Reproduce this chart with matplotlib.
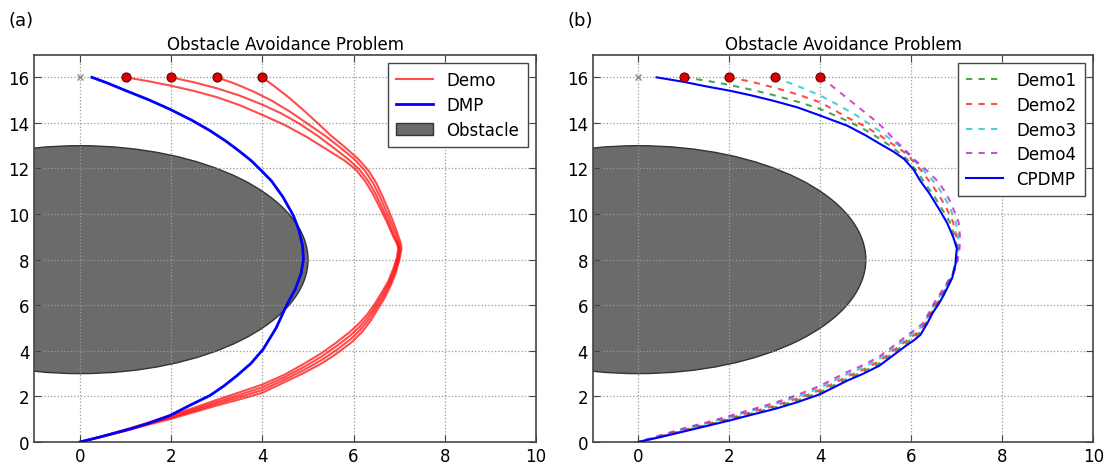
import matplotlib
matplotlib.use('Agg')
import matplotlib.pyplot as plt
from matplotlib.patches import Ellipse

# obstaculo circular e pontos iniciais / meta
obs_center = (0.0, 8.0)
obs_radius = 5.0
start_x = [1, 2, 3, 4]
start_y = [16, 16, 16, 16]
goal_marker = (0.0, 16.0)

# (a) demonstracoes
demo_a1_x = [1, 1.5, 2, 2.5, 3, 3.5, 4, 4.5, 5.0, 5.4, 5.8, 6.05, 6.25, 6.42, 6.57, 6.72, 6.85,
             6.95, 6.98,
             6.95, 6.87, 6.76, 6.6, 6.45, 6.3, 6.12, 5.9, 5.6, 5.3, 4.9, 4.5, 4.0, 3.5, 3.0,
             2.5, 2.0, 1.5, 1.0, 0.5, 0]
demo_a1_y = [16, 15.83, 15.63, 15.4, 15.13, 14.78, 14.35, 13.9, 13.35, 12.85, 12.35, 11.95, 11.45,
             10.9, 10.3, 9.7, 9.1, 8.7, 8.5,
             8.1, 7.6, 7.05, 6.5, 6.02, 5.6, 5.2, 4.8, 4.33, 3.9, 3.42, 2.97, 2.52, 2.18, 1.85,
             1.5, 1.18, 0.85, 0.55, 0.26, 0]
demo_a2_x = [2, 2.5, 3, 3.5, 4, 4.4, 4.8, 5.2, 5.6, 5.9, 6.13, 6.32, 6.48, 6.62, 6.76, 6.88, 6.97,
             7.0,
             6.97, 6.89, 6.78, 6.63, 6.48, 6.32, 6.14, 5.92, 5.6, 5.3, 4.9, 4.5, 4.0, 3.5, 3.0,
             2.5, 2.0, 1.5, 1.0, 0.5, 0]
demo_a2_y = [16, 15.78, 15.52, 15.2, 14.8, 14.43, 13.98, 13.45, 12.85, 12.38, 11.95, 11.45, 10.9,
             10.3, 9.7, 9.1, 8.7, 8.5,
             8.08, 7.55, 7.0, 6.45, 5.97, 5.5, 5.07, 4.66, 4.17, 3.75, 3.28, 2.86, 2.4, 2.07, 1.76,
             1.43, 1.12, 0.82, 0.53, 0.25, 0]
demo_a3_x = [3, 3.4, 3.8, 4.2, 4.6, 5.0, 5.4, 5.75, 6.03, 6.25, 6.43, 6.58, 6.7, 6.82, 6.93, 7.0,
             7.02,
             6.99, 6.91, 6.8, 6.66, 6.51, 6.35, 6.16, 5.94, 5.6, 5.3, 4.9, 4.5, 4.0, 3.5, 3.0,
             2.5, 2.0, 1.5, 1.0, 0.5, 0]
demo_a3_y = [16, 15.72, 15.38, 14.98, 14.5, 13.95, 13.4, 12.85, 12.38, 11.9, 11.35, 10.75, 10.2,
             9.65, 9.1, 8.7, 8.5,
             8.06, 7.5, 6.95, 6.4, 5.92, 5.42, 4.95, 4.52, 4.0, 3.6, 3.15, 2.75, 2.28, 1.97, 1.68,
             1.37, 1.07, 0.79, 0.51, 0.25, 0]
demo_a4_x = [4, 4.3, 4.6, 4.9, 5.19, 5.5, 5.8, 6.1, 6.33, 6.5, 6.64, 6.76, 6.87, 6.97, 7.03, 7.05,
             7.01, 6.93, 6.82, 6.69, 6.54, 6.38, 6.19, 5.96, 5.6, 5.3, 4.9, 4.5, 4.0, 3.5, 3.0,
             2.5, 2.0, 1.5, 1.0, 0.5, 0]
demo_a4_y = [16, 15.55, 15.08, 14.56, 14.03, 13.45, 12.95, 12.42, 11.9, 11.35, 10.75, 10.2, 9.65,
             9.1, 8.75, 8.5,
             8.04, 7.45, 6.9, 6.35, 5.86, 5.34, 4.84, 4.38, 3.84, 3.45, 3.02, 2.64, 2.16, 1.87, 1.6,
             1.31, 1.02, 0.76, 0.49, 0.24, 0]

# (a) DMP
dmp_x = [0.26, 0.6, 1.0, 1.5, 1.97, 2.45, 2.85, 3.2, 3.5, 3.75, 3.94, 4.2, 4.45, 4.68, 4.8, 4.88,
         4.9, 4.85, 4.72, 4.53, 4.3, 4.02, 3.75, 3.44, 3.15, 2.85, 2.4, 1.97, 1.5, 1.1, 0.5, 0]
dmp_y = [16, 15.75, 15.42, 15.02, 14.6, 14.12, 13.66, 13.2, 12.75, 12.35, 11.98, 11.45, 10.75, 9.93,
         9.3, 8.6, 8.03, 7.4, 6.7, 6.0, 5.0, 4.08, 3.45, 2.91, 2.45, 2.04, 1.6, 1.16, 0.82, 0.57,
         0.25, 0]

# (b) demonstracoes
demo_b1_x = [1, 1.5, 2.02, 2.5, 2.97, 3.5, 4.0, 4.66, 5.0, 5.32, 5.6, 5.9, 6.15, 6.35, 6.5, 6.65,
             6.85, 6.95, 7.0,
             6.97, 6.9, 6.8, 6.7, 6.6, 6.48, 6.35, 6.2, 6.05, 5.9, 5.6, 5.3, 4.95, 4.6, 4.3, 4.0,
             3.5, 3.0, 2.5, 2.0, 1.5, 1.0, 0.5, 0]
demo_b1_y = [16, 15.85, 15.66, 15.45, 15.22, 14.93, 14.61, 14.03, 13.68, 13.29, 12.9, 12.42, 11.8,
             11.2, 10.8, 10.3, 9.64, 9.0, 8.5,
             7.85, 7.3, 6.9, 6.5, 6.15, 5.8, 5.32, 4.82, 4.57, 4.36, 3.9, 3.45, 3.09, 2.79, 2.49,
             2.19, 1.83, 1.52, 1.26, 0.99, 0.74, 0.49, 0.24, 0]
demo_b2_x = [2, 2.5, 2.97, 3.5, 4.0, 4.66, 5.0, 5.32, 5.6, 5.9, 6.2, 6.45, 6.6, 6.75, 6.92, 6.99, 7.02,
             6.99, 6.92, 6.82, 6.72, 6.62, 6.5, 6.37, 6.22, 6.07, 5.9, 5.6, 5.3, 4.95, 4.6, 4.3,
             4.0, 3.5, 3.0, 2.5, 2.0, 1.5, 1.0, 0.5, 0]
demo_b2_y = [16, 15.8, 15.56, 15.25, 14.9, 14.17, 13.83, 13.44, 13.05, 12.64, 11.95, 11.3, 10.85,
             10.35, 9.64, 9.0, 8.5,
             7.9, 7.38, 7.0, 6.62, 6.27, 5.92, 5.44, 4.95, 4.7, 4.46, 4.0, 3.55, 3.18, 2.88, 2.58,
             2.28, 1.91, 1.59, 1.32, 1.04, 0.78, 0.52, 0.26, 0]
demo_b3_x = [3, 3.5, 4.0, 4.4, 4.8, 5.1, 5.39, 5.7, 5.97, 6.25, 6.53, 6.68, 6.82, 6.98, 7.03, 7.04,
             7.0, 6.93, 6.83, 6.73, 6.63, 6.51, 6.38, 6.24, 6.08, 5.9, 5.6, 5.3, 4.95, 4.6, 4.3,
             4.0, 3.5, 3.0, 2.5, 2.0, 1.5, 1.0, 0.5, 0]
demo_b3_y = [16, 15.62, 15.2, 14.78, 14.32, 13.92, 13.51, 13.05, 12.56, 11.95, 11.35, 10.9, 10.4,
             9.64, 9.0, 8.5,
             7.95, 7.45, 7.1, 6.74, 6.4, 6.04, 5.56, 5.08, 4.82, 4.56, 4.1, 3.65, 3.28, 2.98, 2.68,
             2.37, 1.99, 1.66, 1.38, 1.09, 0.82, 0.55, 0.28, 0]
demo_b4_x = [4, 4.2, 4.5, 4.8, 5.05, 5.25, 5.45, 5.61, 5.85, 6.05, 6.35, 6.6, 6.75, 6.88, 7.04, 7.07,
             7.06,
             7.02, 6.95, 6.85, 6.75, 6.64, 6.52, 6.39, 6.25, 6.1, 5.9, 5.6, 5.3, 4.95, 4.6, 4.3,
             4.0, 3.5, 3.0, 2.5, 2.0, 1.5, 1.0, 0.5, 0]
demo_b4_y = [16, 15.71, 15.23, 14.75, 14.35, 14.03, 13.65, 13.29, 12.85, 12.42, 11.9, 11.4, 10.95,
             10.45, 9.64, 9.0, 8.5,
             8.0, 7.52, 7.2, 6.86, 6.52, 6.16, 5.68, 5.2, 4.95, 4.66, 4.2, 3.75, 3.38, 3.08, 2.78,
             2.47, 2.07, 1.72, 1.43, 1.14, 0.86, 0.6, 0.3, 0]

# (b) CPDMP
cpdmp_x = [0.4, 1.0, 1.5, 2.02, 2.5, 2.97, 3.5, 4.0, 4.59, 5.0, 5.32, 5.6, 5.84, 6.05, 6.2, 6.4,
           6.6, 6.78, 6.92, 7.0,
           6.97, 6.9, 6.8, 6.7, 6.6, 6.48, 6.35, 6.2, 6.05, 5.9, 5.6, 5.3, 4.95, 4.6, 4.3, 4.0,
           3.5, 3.0, 2.5, 2.0, 1.5, 1.0, 0.5, 0]
cpdmp_y = [16, 15.8, 15.6, 15.41, 15.2, 14.97, 14.68, 14.32, 13.88, 13.45, 13.07, 12.75, 12.42,
           11.95, 11.45, 10.9, 10.25, 9.64, 9.0, 8.5,
           7.8, 7.2, 6.8, 6.4, 6.05, 5.7, 5.2, 4.7, 4.45, 4.25, 3.8, 3.35, 3.0, 2.7, 2.4, 2.1,
           1.75, 1.45, 1.2, 0.94, 0.7, 0.46, 0.22, 0]

fig = plt.figure(figsize=(11.04, 4.64), dpi=100)
ax1 = fig.add_axes([0.0312, 0.0453, 0.4543, 0.835])
ax2 = fig.add_axes([0.537, 0.0453, 0.4533, 0.835])


def base(ax):
    obst = Ellipse(obs_center, 2 * obs_radius, 2 * obs_radius, facecolor='#6b6b6b',
                   edgecolor='#333333', lw=1.0, label='Obstacle', zorder=1)
    ax.add_patch(obst)
    ax.plot(goal_marker[0], goal_marker[1], 'x', color='#888888', ms=5, mew=1, zorder=4)
    ax.plot(start_x, start_y, 'o', color='#dd0000', mec='#660000', ms=6.5, mew=0.8, zorder=5)
    ax.set_xlim(-1, 10)
    ax.set_ylim(0, 17)
    ax.set_xticks([0, 2, 4, 6, 8, 10])
    ax.set_yticks([0, 2, 4, 6, 8, 10, 12, 14, 16])
    ax.grid(True, linestyle=':', color='#999999', lw=0.9)
    ax.set_axisbelow(False)
    ax.tick_params(direction='in', top=True, right=True, labelsize=12, length=5,
                   color='#444444')
    for s in ax.spines.values():
        s.set_color('#444444')
        s.set_linewidth(1.2)
    ax.set_title('Obstacle Avoidance Problem', fontsize=12, pad=4)
    return obst


obst1 = base(ax1)
h_demo = None
for dx, dy in [(demo_a1_x, demo_a1_y), (demo_a2_x, demo_a2_y),
               (demo_a3_x, demo_a3_y), (demo_a4_x, demo_a4_y)]:
    h_demo, = ax1.plot(dx, dy, color='r', alpha=0.7, lw=1.5, zorder=3)
h_dmp, = ax1.plot(dmp_x, dmp_y, color='b', lw=2, zorder=3)
ax1.legend([h_demo, h_dmp, obst1], ['Demo', 'DMP', 'Obstacle'], loc='upper right',
           fontsize=12, fancybox=False, edgecolor='#444444', framealpha=1,
           handlelength=2.2, borderpad=0.5, labelspacing=0.4)

base(ax2)
hs = []
for dx, dy, c in [(demo_b1_x, demo_b1_y, 'g'), (demo_b2_x, demo_b2_y, 'r'),
                  (demo_b3_x, demo_b3_y, 'c'), (demo_b4_x, demo_b4_y, 'm')]:
    h, = ax2.plot(dx, dy, '--', dashes=(3, 3), color=c, alpha=0.7, lw=1.5, zorder=3)
    hs.append(h)
h, = ax2.plot(cpdmp_x, cpdmp_y, color='b', lw=1.5, zorder=3)
hs.append(h)
ax2.legend(hs, ['Demo1', 'Demo2', 'Demo3', 'Demo4', 'CPDMP'], loc='upper right',
           fontsize=12, fancybox=False, edgecolor='#444444', framealpha=1,
           handlelength=2.2, borderpad=0.5, labelspacing=0.4)

fig.text(0.008, 0.945, '(a)', fontsize=13)
fig.text(0.514, 0.945, '(b)', fontsize=13)

fig.savefig('out.png', dpi=100)
